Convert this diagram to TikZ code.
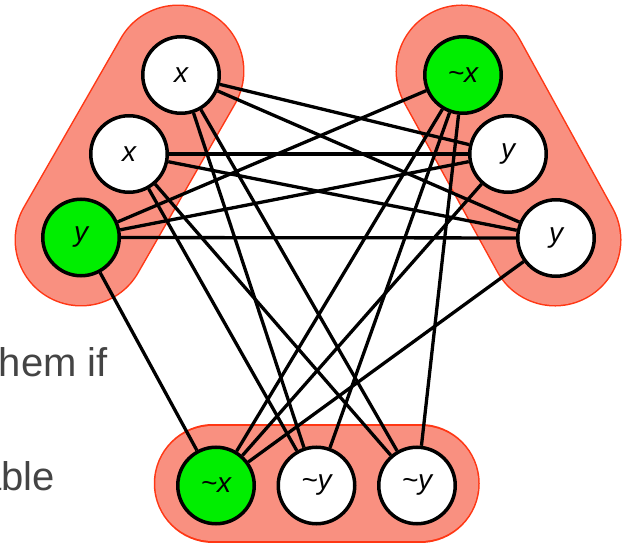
\documentclass[tikz,border=0pt]{standalone}
\usepackage{fontspec}
\setmainfont{Liberation Sans}
\definecolor{capfill}{RGB}{249,144,128}
\definecolor{capline}{RGB}{255,55,20}
\definecolor{litgreen}{RGB}{0,238,0}
\definecolor{txtgray}{RGB}{68,68,68}
\begin{document}
\begin{tikzpicture}[x=1pt,y=-1pt,
  lit/.style={circle, draw=black, line width=3.5pt, fill=white, minimum size=76.5pt, inner sep=0pt, font=\fontsize{28}{32}\selectfont\itshape},
  truelit/.style={lit, fill=litgreen},
  edge/.style={line width=3.3pt, black},
  capborder/.style={line width=133pt, capline, line cap=round},
  capinner/.style={line width=130pt, capfill, line cap=round},
  capborderb/.style={line width=118.5pt, capline, line cap=round},
  capinnerb/.style={line width=115.5pt, capfill, line cap=round},
  sidetext/.style={font=\fontsize{40}{48}\selectfont, text=txtgray, inner sep=0pt, anchor=base east}]
\useasboundingbox (0,0) rectangle (629,545);
% clause groups
\coordinate (gLa) at (178,71);
\coordinate (gLb) at (81,240);
\coordinate (gRa) at (462,71);
\coordinate (gRb) at (555,240);
\coordinate (gBa) at (213,483.5);
\coordinate (gBb) at (420.5,483.5);
\draw[capborder] (gLa) -- (gLb);
\draw[capinner] (gLa) -- (gLb);
\draw[capborder] (gRa) -- (gRb);
\draw[capinner] (gRa) -- (gRb);
\draw[capborderb] (gBa) -- (gBb);
\draw[capinnerb] (gBa) -- (gBb);
% side text
\node[sidetext] (t1) at (108,376) {hem if};
\node[sidetext] (t2) at (55,490) {able};
% literals
\node[lit] (L1) at (181,75) {x};
\node[lit] (L2) at (129,154) {x};
\node[truelit] (L3) at (81,237.5) {y};
\node[truelit] (R1) at (463,75) {\textasciitilde x};
\node[lit] (R2) at (508,154) {y};
\node[lit] (R3) at (556,238) {y};
\node[truelit] (B1) at (216,485.5) {\textasciitilde x};
\node[lit] (B2) at (316.5,485.5) {\textasciitilde y};
\node[lit] (B3) at (417,485.5) {\textasciitilde y};
% edges
\draw[edge] (L1) -- (R2);
\draw[edge] (L1) -- (R3);
\draw[edge] (L1) -- (B2);
\draw[edge] (L1) -- (B3);
\draw[edge] (L2) -- (R2);
\draw[edge] (L2) -- (R3);
\draw[edge] (L2) -- (B2);
\draw[edge] (L2) -- (B3);
\draw[edge] (L3) -- (R1);
\draw[edge] (L3) -- (R2);
\draw[edge] (L3) -- (R3);
\draw[edge] (L3) -- (B1);
\draw[edge] (R1) -- (B1);
\draw[edge] (R1) -- (B2);
\draw[edge] (R1) -- (B3);
\draw[edge] (R2) -- (B1);
\draw[edge] (R3) -- (B1);
\end{tikzpicture}
\end{document}
